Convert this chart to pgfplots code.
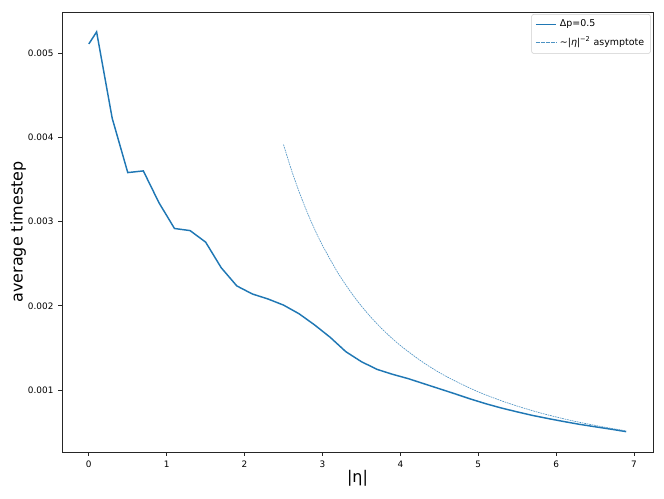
\documentclass[border=0pt]{standalone}
\usepackage{fontspec}
\setmainfont{DejaVu Sans}
\usepackage{pgfplots}
\pgfplotsset{compat=1.18}
\definecolor{mplblue}{HTML}{1F77B4}

\begin{document}
\begin{tikzpicture}
% fixed frame: 664x498 px at 0.72pt/px
\useasboundingbox (-44.6pt,-33.1pt) rectangle (433.4pt,325.4pt);
\begin{axis}[
  name=ax,
  at={(0,0)}, anchor=south west,
  scale only axis,
  width=425.5pt, height=316.8pt,
  xmin=-0.345, xmax=7.245,
  ymin=0.000263, ymax=0.00549,
  xtick={0,1,2,3,4,5,6,7},
  ytick={0.001,0.002,0.003,0.004,0.005},
  scaled y ticks=false,
  yticklabel style={/pgf/number format/fixed,/pgf/number format/precision=3,/pgf/number format/fixed zerofill},
  /pgf/number format/assume math mode=true,
  tick label style={font=\fontsize{6.4}{7}\selectfont},
  tick align=outside, tick pos=left,
  major tick length=2.6pt,
  axis line style={line width=0.6pt, black!85},
  every tick/.style={line width=0.5pt, black!85},
  xlabel={|η|},
  label style={font=\fontsize{11.5}{13}\selectfont},
  xlabel style={at={(axis description cs:0.5,0)}, anchor=center, yshift=-19pt},
  legend style={at={(axis description cs:0.996,0.995)}, anchor=north east,
    font=\fontsize{6.8}{8}\selectfont, draw=black!20, rounded corners=1.5pt,
    inner xsep=2.5pt, inner ysep=2pt, row sep=1.5pt, cells={anchor=west}},
  legend image code/.code={\draw[#1] (0cm,0cm) -- (0.52cm,0cm);},
]
\addplot[mplblue, line width=1.05pt] coordinates {
  (0,0.00511) (0.1,0.005253) (0.3,0.004228) (0.5,0.003582) (0.7,0.003602)
  (0.9,0.003225) (1.1,0.002918) (1.3,0.002893) (1.5,0.002756) (1.7,0.002452)
  (1.9,0.002236) (2.1,0.002140) (2.3,0.002081) (2.5,0.002008) (2.7,0.001905)
  (2.9,0.001772) (3.1,0.001625) (3.3,0.001455) (3.5,0.001336) (3.7,0.001245)
  (3.9,0.001186) (4.1,0.001135) (4.3,0.001075) (4.5,0.001015) (4.7,0.000955)
  (4.9,0.000893) (5.1,0.000836) (5.3,0.000785) (5.5,0.000740) (5.7,0.000697)
  (5.9,0.000660) (6.1,0.000625) (6.3,0.000592) (6.5,0.000563) (6.7,0.000535)
  (6.9,0.000505)
};
\addlegendentry{Δp=0.5}
\addplot[mplblue!80, line width=0.45pt, dash pattern=on 1.2pt off 0.6pt, smooth] coordinates {
  (2.5,0.003914) (2.6,0.003618) (2.7,0.003355) (2.8,0.003120) (2.9,0.002908)
  (3.0,0.002718) (3.2,0.002389) (3.4,0.002116) (3.6,0.001887) (3.8,0.001694)
  (4.0,0.001529) (4.3,0.001323) (4.6,0.001156) (5.0,0.000978) (5.4,0.000839)
  (5.8,0.000727) (6.2,0.000636) (6.6,0.000562) (6.9,0.000514)
};
\addlegendentry{∼|\textit{η}|\textsuperscript{−2} asymptote}
\end{axis}
\node[rotate=90, anchor=center, font=\fontsize{11.5}{13}\selectfont]
  at ([xshift=-31.5pt]ax.west) {average timestep};
\end{tikzpicture}
\end{document}
